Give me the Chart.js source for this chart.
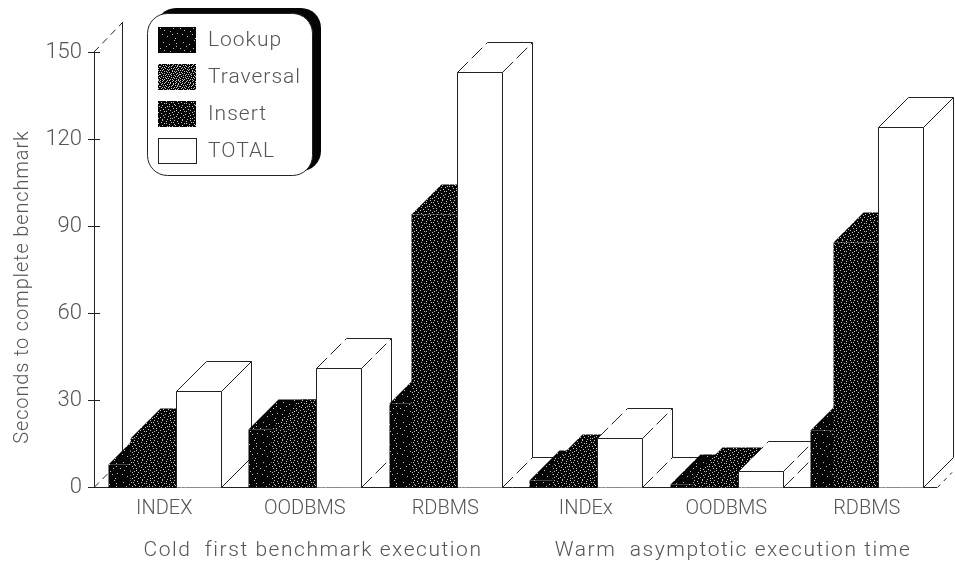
<!DOCTYPE html>
<html lang="en">
<head>
    <meta charset="UTF-8">
    <title>Benchmark execution</title>
    <script src="https://cdn.jsdelivr.net/npm/chart.js"></script>
    <style>
        body { margin: 0; background: #fff; }
        canvas { display: block; }
    </style>
</head>
<body>
    <canvas id="benchChart" width="955" height="563"></canvas>

    <script>
        const categories = ['INDEX', 'OODBMS', 'RDBMS', 'INDEx', 'OODBMS', 'RDBMS'];
        const lookup = [8, 20, 29, 2.4, 1.2, 19.7];
        const traversal = [17, 20, 94, 8, 3.4, 84.5];
        const insert = [8, 1, 20, 6.6, 0.9, 19.6];
        const total = [33, 41, 143, 17, 5.5, 124];
        const yTicks = [0, 30, 60, 90, 120, 150];
        const groupTitles = ['Cold  first benchmark execution', 'Warm  asymptotic execution time'];
        const yTitle = 'Seconds to complete benchmark';

        const DEPTH = 30;
        const INK = '#222';
        const TEXT = '#555';
        const FONT = 'Roboto, sans-serif';

        // speckle tiles for the dark fills, '#' is a pale fleck
        const sparseSpeck = [
            '..............#.....', '....................', '...#................', '................#...',
            '.........#..........', '....................', '......#.........#...', '....................',
            '#............#......', '....................', '....#...............', '..........#.........',
            '....................', '.................#..', '..#.........#.......', '....................',
            '.......#............', '....................', '...............#....', '....................'
        ];
        const midSpeck = [
            '..#.......#...#.....', '......#..........#..', '.#.........#.#......', '....#.#...........#.',
            '.........#....#.....', '..#............#....', '.......#.#..#......#', '.#...#..............',
            '.............#..#...', '...#....#...........', '#.........#.....#...', '....#.#.......#.....',
            '............#.....#.', '.#.......#..........', '.....#.......#...#..', '...#......#.........',
            '........#.......#...', '#...#.........#.....', '..........#.#.....#.', '..#....#............'
        ];
        const denseSpeck = [
            '#..#...#.#...#..#.#.', '..#...#.....#..#...#', '#....#..#.#.....#...', '..#.#.....#..#.#..#.',
            '.#.....#.#...#....#.', '...#.#......#..#.#..', '#.....#..#.#.....#.#', '..#.#...#.....#.#...',
            '.#...#.....#.#....#.', '...#...#.#.....#.#..', '#.#.....#...#.....#.', '....#.#.....#.#.#...',
            '.#.....#.#.....#...#', '..#.#......#.#...#..', '#.....#.#.#.....#..#', '...#.#.....#..#...#.',
            '.#.....#.#.....#.#..', '...#.#.....#.#.....#', '#.....#.#.....#.#...', '..#.#.....#.#.....#.'
        ];

        function speckle(rows) {
            const tile = document.createElement('canvas');
            tile.width = tile.height = 20;
            const c = tile.getContext('2d');
            c.fillStyle = '#050505';
            c.fillRect(0, 0, 20, 20);
            c.fillStyle = '#c4c4c4';
            rows.forEach((row, y) => {
                [...row].forEach((ch, x) => {
                    if (ch === '#') c.fillRect(x, y, 1, 1);
                });
            });
            return c.createPattern(tile, 'repeat');
        }

        function line(ctx, x1, y1, x2, y2, dash) {
            ctx.save();
            ctx.setLineDash(dash || []);
            ctx.beginPath();
            ctx.moveTo(x1, y1);
            ctx.lineTo(x2, y2);
            ctx.stroke();
            ctx.restore();
        }

        function face(ctx, points) {
            ctx.beginPath();
            points.forEach((p, i) => i ? ctx.lineTo(p[0], p[1]) : ctx.moveTo(p[0], p[1]));
            ctx.closePath();
            ctx.fill();
        }

        // box with front, top and right side taken from the bar element
        function drawBox(ctx, bar, fill, outlined, dashed) {
            const l = Math.round(bar.x - bar.width / 2) + 0.5;
            const r = Math.round(bar.x + bar.width / 2) + 0.5;
            const t = Math.round(bar.y) + 0.5;
            const b = Math.round(bar.base) + 0.5;
            const top = [[l, t], [r, t], [r + DEPTH, t - DEPTH], [l + DEPTH, t - DEPTH]];
            const side = [[r, t], [r + DEPTH, t - DEPTH], [r + DEPTH, b - DEPTH], [r, b]];
            const front = [[l, t], [r, t], [r, b], [l, b]];
            ctx.fillStyle = fill;
            [side, top, front].forEach(p => face(ctx, p));
            if (!outlined) return;
            const dash = dashed ? [15, 5] : [];
            ctx.strokeStyle = INK;
            ctx.lineWidth = 1;
            line(ctx, l, t, r, t);
            line(ctx, l, t, l, b);
            line(ctx, r, t, r, b);
            line(ctx, l + DEPTH, t - DEPTH, r + DEPTH, t - DEPTH);
            line(ctx, r + DEPTH, t - DEPTH, r + DEPTH, b - DEPTH);
            line(ctx, l, t, l + DEPTH, t - DEPTH, dash);
            line(ctx, r, t, r + DEPTH, t - DEPTH, dash);
            line(ctx, r, b, r + DEPTH, b - DEPTH, dash);
        }

        function drawLegend(ctx, chart) {
            ctx.save();
            ctx.beginPath();
            ctx.roundRect(156, 8, 165, 163, 20);
            ctx.fillStyle = '#050505';
            ctx.fill();
            ctx.beginPath();
            ctx.roundRect(147.5, 13.5, 165, 162, 20);
            ctx.fillStyle = '#fff';
            ctx.fill();
            ctx.strokeStyle = INK;
            ctx.lineWidth = 1;
            ctx.stroke();

            const rowTops = [27, 64, 101, 138];
            ctx.font = '300 21px ' + FONT;
            ctx.letterSpacing = '1px';
            ctx.textBaseline = 'middle';
            chart.data.datasets.forEach((set, i) => {
                ctx.fillStyle = set.swatch || set.backgroundColor;
                ctx.fillRect(158, rowTops[i], 38, 26);
                if (set.outlined) ctx.strokeRect(158.5, rowTops[i] + 0.5, 38, 25);
                ctx.fillStyle = TEXT;
                ctx.fillText(set.label, 208, rowTops[i] + 14);
            });
            ctx.restore();
        }

        const boxes3d = {
            id: 'boxes3d',
            // the library's flat bars are replaced by extruded ones
            beforeDatasetsDraw(chart) {
                const ctx = chart.ctx;
                const { left, right, bottom } = chart.chartArea;
                const y = chart.scales.y;
                const floor = Math.round(bottom) + 0.5;

                ctx.save();
                ctx.strokeStyle = INK;
                ctx.lineWidth = 1;
                // back wall and floor
                line(ctx, left + 28.5, y.getPixelForValue(150) - 30, left + 28.5, floor - DEPTH);
                line(ctx, left + 28.5, floor - DEPTH, 952, floor - DEPTH);
                line(ctx, left, y.getPixelForValue(150), left + 28, y.getPixelForValue(150) - 29, [7, 5]);
                line(ctx, left, floor, left + 30, floor - DEPTH, [7, 5]);
                line(ctx, right + 0.5, floor, right + 15, floor - 15, [4, 5]);
                line(ctx, 88, floor, right, floor);
                // ticks cross the axis
                yTicks.forEach(v => {
                    const py = Math.round(y.getPixelForValue(v)) + 0.5;
                    line(ctx, left - 6, py, left + 6, py);
                });

                categories.forEach((_, c) => {
                    chart.data.datasets.forEach((set, s) => {
                        const bar = chart.getDatasetMeta(s).data[c];
                        drawBox(ctx, bar, set.backgroundColor, set.outlined, c > 0 && c < 5);
                    });
                });
                ctx.restore();
                return false;
            },
            afterDraw(chart) {
                const ctx = chart.ctx;
                drawLegend(ctx, chart);
                ctx.save();
                ctx.fillStyle = TEXT;
                ctx.font = '300 21px ' + FONT;
                ctx.letterSpacing = '1.55px';
                ctx.textAlign = 'center';
                ctx.textBaseline = 'middle';
                ctx.fillText(groupTitles[0], 313, 551);
                ctx.fillText(groupTitles[1], 733, 551);
                ctx.font = '300 20px ' + FONT;
                ctx.letterSpacing = '0.85px';
                ctx.translate(23, 287);
                ctx.rotate(-Math.PI / 2);
                ctx.fillText(yTitle, 0, 0);
                ctx.restore();
            }
        };

        new Chart(document.getElementById('benchChart'), {
            type: 'bar',
            data: {
                labels: categories,
                datasets: [
                    { label: 'Lookup', data: lookup, backgroundColor: speckle(sparseSpeck) },
                    { label: 'Traversal', data: traversal, backgroundColor: speckle(midSpeck), swatch: speckle(denseSpeck) },
                    { label: 'Insert', data: insert, backgroundColor: speckle(midSpeck) },
                    { label: 'TOTAL', data: total, backgroundColor: '#fff', outlined: true }
                ]
            },
            options: {
                responsive: false,
                animation: false,
                layout: { padding: { top: 52, right: 18 } },
                // neighbouring bars overlap by half a width
                categoryPercentage: 0.6425,
                barPercentage: 2,
                plugins: { legend: { display: false }, tooltip: { enabled: false } },
                scales: {
                    x: {
                        afterFit(scale) { scale.height = 76; },
                        grid: { display: false },
                        border: { display: false },
                        ticks: { color: TEXT, padding: 2, maxRotation: 0, autoSkip: false,
                                 font: { family: FONT, size: 20, weight: 300 } }
                    },
                    y: {
                        min: 0,
                        max: 150,
                        afterFit(scale) { scale.width = 94; },
                        afterBuildTicks(scale) { scale.ticks = yTicks.map(value => ({ value })); },
                        grid: { drawOnChartArea: false, drawTicks: false },
                        border: { color: INK },
                        ticks: { color: TEXT, padding: 12, font: { family: FONT, size: 22, weight: 300 } }
                    }
                }
            },
            plugins: [boxes3d]
        });
    </script>
</body>
</html>
